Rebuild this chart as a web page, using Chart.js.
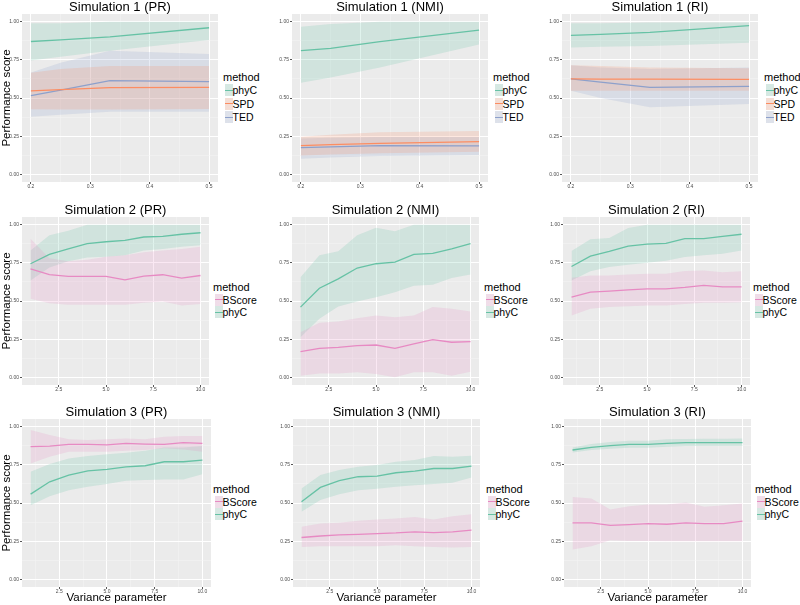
<!DOCTYPE html>
<html>
<head>
<meta charset="utf-8">
<script src="https://cdn.jsdelivr.net/npm/chart.js@4/dist/chart.umd.min.js"></script>
<style>
	body { margin: 0; background: #fff; font-family: 'Liberation Sans', Arial, sans-serif; }
	#wrap { position: relative; width: 800px; height: 605px; overflow: hidden; }
	#wrap canvas { position: absolute; }
	.lg { position: absolute; color: #000; white-space: nowrap; }
	.key { position: absolute; width: 8px; height: 12px; }
	.key i { position: absolute; left: 0; right: 0; top: 5.5px; height: 1.2px; }
</style>
</head>
<body>
<div id="wrap"></div>
<script>
// x values and tick labels
const xSim1 = [0.2, 0.25, 0.333, 0.5];
const xSim23 = [1, 2, 3, 4, 5, 6, 7, 8, 9, 10];
const xTicksSim1 = [0.2, 0.3, 0.4, 0.5];
const xLabelsSim1 = ['0.2', '0.3', '0.4', '0.5'];
const xTicksSim23 = [2.5, 5, 7.5, 10];
const xLabelsSim23 = ['2.5', '5.0', '7.5', '10.0'];
const yTicks = [0, 0.25, 0.5, 0.75, 1];
const yLabels = ['0.00', '0.25', '0.50', '0.75', '1.00'];

// Simulation 1 (PR)
const s1pr_phyC = [0.87, 0.88, 0.90, 0.96];
const s1pr_phyC_lo = [0.745, 0.77, 0.81, 0.88];
const s1pr_phyC_hi = [0.99, 0.99, 1.0, 1.0];
const s1pr_SPD = [0.546, 0.555, 0.568, 0.57];
const s1pr_SPD_lo = [0.426, 0.425, 0.425, 0.428];
const s1pr_SPD_hi = [0.666, 0.69, 0.71, 0.71];
const s1pr_TED = [0.515, 0.552, 0.614, 0.607];
const s1pr_TED_lo = [0.378, 0.39, 0.41, 0.41];
const s1pr_TED_hi = [0.666, 0.73, 0.81, 0.788];

// Simulation 1 (NMI)
const s1nmi_phyC = [0.81, 0.825, 0.869, 0.945];
const s1nmi_phyC_lo = [0.60, 0.635, 0.70, 0.85];
const s1nmi_phyC_hi = [0.967, 0.985, 1.0, 1.0];
const s1nmi_SPD = [0.188, 0.195, 0.203, 0.214];
const s1nmi_SPD_lo = [0.124, 0.13, 0.138, 0.148];
const s1nmi_SPD_hi = [0.247, 0.26, 0.275, 0.284];
const s1nmi_TED = [0.175, 0.18, 0.188, 0.186];
const s1nmi_TED_lo = [0.103, 0.11, 0.12, 0.127];
const s1nmi_TED_hi = [0.235, 0.24, 0.245, 0.245];

// Simulation 1 (RI)
const s1ri_phyC = [0.91, 0.917, 0.93, 0.974];
const s1ri_phyC_lo = [0.83, 0.835, 0.84, 0.862];
const s1ri_phyC_hi = [0.99, 0.99, 0.995, 0.995];
const s1ri_SPD = [0.625, 0.624, 0.623, 0.622];
const s1ri_SPD_lo = [0.548, 0.548, 0.548, 0.548];
const s1ri_SPD_hi = [0.714, 0.71, 0.70, 0.694];
const s1ri_TED = [0.625, 0.604, 0.57, 0.576];
const s1ri_TED_lo = [0.548, 0.5, 0.44, 0.46];
const s1ri_TED_hi = [0.714, 0.70, 0.69, 0.70];

// Simulation 2 (PR)
const s2pr_BScore = [0.711, 0.672, 0.661, 0.661, 0.661, 0.639, 0.663, 0.672, 0.65, 0.667];
const s2pr_BScore_lo = [0.514, 0.486, 0.475, 0.475, 0.475, 0.475, 0.488, 0.497, 0.47, 0.48];
const s2pr_BScore_hi = [0.908, 0.78, 0.76, 0.77, 0.79, 0.80, 0.82, 0.83, 0.84, 0.855];
const s2pr_phyC = [0.744, 0.805, 0.842, 0.875, 0.888, 0.897, 0.919, 0.923, 0.937, 0.947];
const s2pr_phyC_lo = [0.635, 0.72, 0.76, 0.785, 0.79, 0.80, 0.83, 0.84, 0.855, 0.865];
const s2pr_phyC_hi = [0.83, 0.93, 0.96, 1, 1, 1, 1, 1, 1, 1];

// Simulation 2 (NMI)
const s2nmi_BScore = [0.168, 0.19, 0.197, 0.208, 0.212, 0.19, 0.219, 0.247, 0.23, 0.234];
const s2nmi_BScore_lo = [0.011, 0.026, 0.026, 0.033, 0.022, 0.0, 0.033, 0.033, 0.011, 0.037];
const s2nmi_BScore_hi = [0.295, 0.357, 0.365, 0.387, 0.405, 0.394, 0.405, 0.46, 0.449, 0.431];
const s2nmi_phyC = [0.46, 0.584, 0.645, 0.716, 0.744, 0.755, 0.805, 0.812, 0.842, 0.875];
const s2nmi_phyC_lo = [0.263, 0.383, 0.464, 0.497, 0.525, 0.558, 0.60, 0.606, 0.65, 0.674];
const s2nmi_phyC_hi = [0.656, 0.80, 0.825, 0.93, 0.98, 0.956, 1, 1, 1, 1];

// Simulation 2 (RI)
const s2ri_BScore = [0.525, 0.558, 0.565, 0.573, 0.58, 0.58, 0.589, 0.602, 0.593, 0.593];
const s2ri_BScore_lo = [0.405, 0.449, 0.46, 0.466, 0.47, 0.47, 0.481, 0.488, 0.488, 0.492];
const s2ri_BScore_hi = [0.652, 0.667, 0.667, 0.674, 0.678, 0.678, 0.696, 0.70, 0.689, 0.694];
const s2ri_phyC = [0.726, 0.794, 0.825, 0.86, 0.873, 0.877, 0.908, 0.908, 0.923, 0.937];
const s2ri_phyC_lo = [0.635, 0.694, 0.722, 0.737, 0.75, 0.764, 0.788, 0.799, 0.81, 0.831];
const s2ri_phyC_hi = [0.827, 0.904, 0.912, 0.978, 1, 1, 1, 1, 1, 1];

// Simulation 3 (PR)
const s3pr_BScore = [0.869, 0.873, 0.884, 0.884, 0.88, 0.89, 0.886, 0.884, 0.895, 0.89];
const s3pr_BScore_lo = [0.759, 0.803, 0.836, 0.836, 0.836, 0.842, 0.847, 0.858, 0.851, 0.836];
const s3pr_BScore_hi = [0.978, 0.945, 0.917, 0.912, 0.917, 0.923, 0.917, 0.934, 0.939, 0.939];
const s3pr_phyC = [0.558, 0.639, 0.683, 0.711, 0.72, 0.737, 0.744, 0.77, 0.77, 0.781];
const s3pr_phyC_lo = [0.486, 0.545, 0.584, 0.606, 0.624, 0.646, 0.65, 0.654, 0.654, 0.689];
const s3pr_phyC_hi = [0.705, 0.755, 0.792, 0.807, 0.82, 0.829, 0.842, 0.864, 0.864, 0.873];

// Simulation 3 (NMI)
const s3nmi_BScore = [0.274, 0.284, 0.291, 0.295, 0.30, 0.304, 0.311, 0.306, 0.311, 0.322];
const s3nmi_BScore_lo = [0.212, 0.217, 0.217, 0.217, 0.217, 0.223, 0.217, 0.212, 0.208, 0.212];
const s3nmi_BScore_hi = [0.344, 0.365, 0.37, 0.383, 0.392, 0.398, 0.409, 0.392, 0.414, 0.427];
const s3nmi_phyC = [0.508, 0.602, 0.646, 0.672, 0.676, 0.698, 0.709, 0.726, 0.726, 0.742];
const s3nmi_phyC_lo = [0.442, 0.519, 0.558, 0.584, 0.593, 0.606, 0.617, 0.624, 0.632, 0.667];
const s3nmi_phyC_hi = [0.595, 0.683, 0.716, 0.737, 0.748, 0.77, 0.781, 0.807, 0.803, 0.81];

// Simulation 3 (RI)
const s3ri_BScore = [0.37, 0.37, 0.354, 0.359, 0.365, 0.361, 0.37, 0.365, 0.365, 0.381];
const s3ri_BScore_lo = [0.195, 0.217, 0.256, 0.252, 0.252, 0.25, 0.25, 0.25, 0.25, 0.25];
const s3ri_BScore_hi = [0.54, 0.53, 0.457, 0.479, 0.49, 0.49, 0.503, 0.475, 0.486, 0.497];
const s3ri_phyC = [0.847, 0.864, 0.875, 0.884, 0.884, 0.89, 0.895, 0.895, 0.895, 0.895];
const s3ri_phyC_lo = [0.831, 0.847, 0.856, 0.862, 0.862, 0.869, 0.873, 0.873, 0.873, 0.873];
const s3ri_phyC_hi = [0.864, 0.886, 0.90, 0.908, 0.908, 0.917, 0.919, 0.921, 0.921, 0.923];

const colors = { phyC: '#66c2a5', SPD: '#fc8d62', TED: '#8da0cb', BScore: '#e78ac3' };
const FONT = "'Liberation Sans', Arial, sans-serif";

const rgba = (hex, a) => {
	const n = parseInt(hex.slice(1), 16);
	return `rgba(${n >> 16}, ${(n >> 8) & 255}, ${n & 255}, ${a})`;
};
const pts = (xs, ys) => xs.map((x, i) => ({ x: x, y: ys[i] }));
const near = (arr, v) => arr.findIndex(a => Math.abs(a - v) < 1e-6);

// panel layout: canvas box, legend anchor
const panels = [
	{ title: 'Simulation 1 (PR)', x: xSim1, row: 0, left: 0, width: 218, lx: 223, ytitle: true,
		series: [['phyC', s1pr_phyC, s1pr_phyC_lo, s1pr_phyC_hi], ['SPD', s1pr_SPD, s1pr_SPD_lo, s1pr_SPD_hi], ['TED', s1pr_TED, s1pr_TED_lo, s1pr_TED_hi]] },
	{ title: 'Simulation 1 (NMI)', x: xSim1, row: 0, left: 270, width: 218, lx: 493,
		series: [['phyC', s1nmi_phyC, s1nmi_phyC_lo, s1nmi_phyC_hi], ['SPD', s1nmi_SPD, s1nmi_SPD_lo, s1nmi_SPD_hi], ['TED', s1nmi_TED, s1nmi_TED_lo, s1nmi_TED_hi]] },
	{ title: 'Simulation 1 (RI)', x: xSim1, row: 0, left: 540, width: 218, lx: 764,
		series: [['phyC', s1ri_phyC, s1ri_phyC_lo, s1ri_phyC_hi], ['SPD', s1ri_SPD, s1ri_SPD_lo, s1ri_SPD_hi], ['TED', s1ri_TED, s1ri_TED_lo, s1ri_TED_hi]] },
	{ title: 'Simulation 2 (PR)', x: xSim23, row: 1, left: 0, width: 209, lx: 213, ytitle: true,
		series: [['BScore', s2pr_BScore, s2pr_BScore_lo, s2pr_BScore_hi], ['phyC', s2pr_phyC, s2pr_phyC_lo, s2pr_phyC_hi]] },
	{ title: 'Simulation 2 (NMI)', x: xSim23, row: 1, left: 270, width: 209, lx: 484,
		series: [['BScore', s2nmi_BScore, s2nmi_BScore_lo, s2nmi_BScore_hi], ['phyC', s2nmi_phyC, s2nmi_phyC_lo, s2nmi_phyC_hi]] },
	{ title: 'Simulation 2 (RI)', x: xSim23, row: 1, left: 541, width: 209, lx: 753,
		series: [['BScore', s2ri_BScore, s2ri_BScore_lo, s2ri_BScore_hi], ['phyC', s2ri_phyC, s2ri_phyC_lo, s2ri_phyC_hi]] },
	{ title: 'Simulation 3 (PR)', x: xSim23, row: 2, left: 0, width: 211, lx: 213, ytitle: true,
		series: [['BScore', s3pr_BScore, s3pr_BScore_lo, s3pr_BScore_hi], ['phyC', s3pr_phyC, s3pr_phyC_lo, s3pr_phyC_hi]] },
	{ title: 'Simulation 3 (NMI)', x: xSim23, row: 2, left: 271, width: 209, lx: 486,
		series: [['BScore', s3nmi_BScore, s3nmi_BScore_lo, s3nmi_BScore_hi], ['phyC', s3nmi_phyC, s3nmi_phyC_lo, s3nmi_phyC_hi]] },
	{ title: 'Simulation 3 (RI)', x: xSim23, row: 2, left: 542, width: 209, lx: 755,
		series: [['BScore', s3ri_BScore, s3ri_BScore_lo, s3ri_BScore_hi], ['phyC', s3ri_phyC, s3ri_phyC_lo, s3ri_phyC_hi]] },
];
const rows = [
	{ top: 0, height: 192, xh: 10, ly: 77, step: 13.4 },
	{ top: 203, height: 192, xh: 10, ly: 287, step: 12.7 },
	{ top: 405, height: 200, xh: 18, ly: 489, step: 12.6 },
];

const panelBg = {
	id: 'panelBg',
	beforeDraw(chart) {
		const { ctx, chartArea: a } = chart;
		ctx.save();
		ctx.fillStyle = '#ebebeb';
		ctx.fillRect(a.left, a.top, a.right - a.left, a.bottom - a.top);
		ctx.restore();
	}
};

const wrap = document.getElementById('wrap');

panels.forEach(p => {
	const row = rows[p.row];
	const sim1 = p.x === xSim1;
	const xMajor = sim1 ? xTicksSim1 : xTicksSim23;
	const xLab = sim1 ? xLabelsSim1 : xLabelsSim23;
	const xSpan = p.x[p.x.length - 1] - p.x[0];
	const xMin = p.x[0] - xSpan * 0.05, xMax = p.x[p.x.length - 1] + xSpan * 0.05;
	const xStep = xMajor[1] - xMajor[0];
	const xAll = [xMajor[0] - xStep / 2, ...xMajor.flatMap((v, i) => i ? [v - xStep / 2, v] : [v])].filter(v => v >= xMin && v <= xMax);
	const yAll = [0, 0.125, 0.25, 0.375, 0.5, 0.625, 0.75, 0.875, 1];

	const canvas = document.createElement('canvas');
	canvas.width = p.width;
	canvas.height = row.height;
	canvas.style.left = p.left + 'px';
	canvas.style.top = row.top + 'px';
	wrap.appendChild(canvas);

	const lines = p.series.map(([name, mid]) => ({
		label: name, data: pts(p.x, mid), borderColor: colors[name], borderWidth: 1.3,
		pointRadius: 0, fill: false, tension: 0
	}));
	const ribbons = p.series.flatMap(([name, mid, lo, hi]) => [
		{ label: name + ' hi', data: pts(p.x, hi), borderWidth: 0, pointRadius: 0, fill: '+1', backgroundColor: rgba(colors[name], 0.2) },
		{ label: name + ' lo', data: pts(p.x, lo), borderWidth: 0, pointRadius: 0, fill: false }
	]);

	const gridOpts = (major) => ({
		color: c => near(major, c.tick.value) >= 0 ? '#ffffff' : '#f4f4f4',
		lineWidth: c => near(major, c.tick.value) >= 0 ? 1 : 0.5,
		tickColor: c => near(major, c.tick.value) >= 0 ? '#555555' : 'rgba(0,0,0,0)',
		tickLength: 2,
		drawTicks: true
	});

	new Chart(canvas, {
		type: 'line',
		data: { datasets: [...lines, ...ribbons] },
		options: {
			responsive: false,
			animation: false,
			devicePixelRatio: 1,
			layout: { padding: 0 },
			plugins: {
				legend: { display: false },
				tooltip: { enabled: false },
				title: {
					display: true, text: p.title, fullSize: false, color: '#000',
					font: { family: FONT, size: 13, weight: 'normal', lineHeight: 1 },
					padding: { top: 1, bottom: 0 }
				}
			},
			scales: {
				x: {
					type: 'linear', min: xMin, max: xMax,
					afterFit: s => { s.height = row.xh; },
					afterBuildTicks: s => { s.ticks = xAll.map(v => ({ value: v })); },
					ticks: {
						autoSkip: false, maxRotation: 0, padding: 0, color: '#4d4d4d',
						font: { family: FONT, size: 5 },
						callback: v => { const i = near(xMajor, v); return i >= 0 ? xLab[i] : ''; }
					},
					grid: gridOpts(xMajor),
					border: { display: false },
					title: {
						display: p.row === 2, text: 'Variance parameter', color: '#000',
						font: { family: FONT, size: 11.5, lineHeight: 1 }, padding: { top: 0, bottom: 1 }
					}
				},
				y: {
					type: 'linear', min: -0.05, max: 1.05,
					afterFit: s => { s.width = 22; },
					afterBuildTicks: s => { s.ticks = yAll.map(v => ({ value: v })); },
					ticks: {
						autoSkip: false, padding: 1, color: '#4d4d4d',
						font: { family: FONT, size: 5 },
						callback: v => { const i = near(yTicks, v); return i >= 0 ? yLabels[i] : ''; }
					},
					grid: gridOpts(yTicks),
					border: { display: false },
					title: {
						display: !!p.ytitle, text: 'Performance score', color: '#000',
						font: { family: FONT, size: 11.5, lineHeight: 1 }, padding: { top: 1, bottom: 0 }
					}
				}
			}
		},
		plugins: [panelBg]
	});

	// legend, ggplot style
	const head = document.createElement('div');
	head.className = 'lg';
	head.textContent = 'method';
	head.style.cssText = `left:${p.lx}px;top:${row.ly - 7}px;height:14px;line-height:14px;font-size:11px;`;
	wrap.appendChild(head);
	p.series.forEach(([name], i) => {
		const cy = row.ly + row.step * (i + 1);
		const key = document.createElement('div');
		key.className = 'key';
		key.style.left = (p.lx + 1.5) + 'px';
		key.style.top = (cy - 6) + 'px';
		key.style.background = `linear-gradient(${rgba(colors[name], 0.2)}, ${rgba(colors[name], 0.2)}), #f2f2f2`;
		const bar = document.createElement('i');
		bar.style.background = colors[name];
		key.appendChild(bar);
		wrap.appendChild(key);
		const txt = document.createElement('div');
		txt.className = 'lg';
		txt.textContent = name;
		txt.style.cssText = `left:${p.lx + 9.5}px;top:${cy - 7}px;height:14px;line-height:14px;font-size:10.5px;`;
		wrap.appendChild(txt);
	});
});
</script>
</body>
</html>
